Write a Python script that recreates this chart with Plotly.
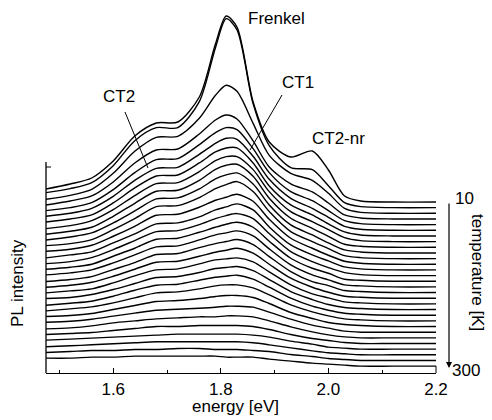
import plotly.graph_objects as go

# ---------------- data ----------------
energy = [1.475, 1.52, 1.56, 1.60, 1.64, 1.68, 1.72, 1.76, 1.79, 1.81,
          1.83, 1.86, 1.89, 1.93, 1.97, 2.00, 2.03, 2.06, 2.12, 2.20]

temperatures = list(range(10, 301, 10))

# PL intensity (arb. units) of each spectrum above its own waterfall offset
pl_10K = [13, 18, 24, 41, 66, 79, 80, 105, 158, 186, 175, 100, 60, 45, 51, 32, 6, 1, 0, 0]
pl_20K = [15, 19, 25, 42, 67, 80, 80, 106, 160, 189, 178, 104, 62, 40, 38, 22, 5, 1, 0, 0]
pl_30K = [14, 18, 24, 40, 62, 76, 77, 95, 118, 128, 122, 90, 58, 40, 33, 20, 5, 1, 0, 0]
pl_40K = [14, 18, 23, 37, 56, 69, 70, 85, 99, 104, 100, 78, 52, 35, 27, 16, 4, 1, 0, 0]
pl_50K = [14, 17, 22, 35, 52, 65, 66, 80, 92, 97, 95, 76, 52, 33, 24, 14, 4, 1, 0, 0]
pl_60K = [14, 17, 22, 34, 50, 62, 63, 76, 87, 92, 91, 74, 51, 32, 22, 13, 4, 1, 0, 0]
pl_70K = [14, 17, 21, 33, 48, 60, 61, 73, 84, 88, 88, 73, 50, 31, 21, 12, 4, 1, 0, 0]
pl_80K = [13, 16, 21, 32, 46, 58, 59, 70, 81, 85, 85, 72, 50, 30, 20, 12, 4, 1, 0, 0]
pl_90K = [13, 16, 20, 31, 44, 56, 57, 67, 78, 82, 83, 71, 49, 29, 19, 11, 3, 1, 0, 0]
pl_100K = [13, 16, 20, 30, 42, 54, 55, 64, 74, 78, 80, 69, 48, 28, 18, 10, 3, 1, 0, 0]
pl_110K = [13, 15, 19, 29, 40, 52, 53, 61, 70, 74, 77, 67, 47, 27, 17, 10, 3, 1, 0, 0]
pl_120K = [13, 15, 19, 28, 38, 49, 50, 57, 64, 67, 70, 63, 45, 26, 16, 9, 3, 1, 0, 0]
pl_130K = [12, 15, 18, 27, 36, 46, 47, 53, 60, 63, 66, 60, 43, 25, 15, 9, 3, 1, 0, 0]
pl_140K = [12, 14, 18, 26, 35, 44, 45, 51, 57, 60, 62, 57, 42, 24, 14, 8, 3, 1, 0, 0]
pl_150K = [12, 14, 17, 25, 33, 42, 43, 49, 54, 57, 59, 54, 40, 23, 13, 8, 2, 1, 0, 0]
pl_160K = [12, 14, 17, 24, 32, 40, 41, 47, 52, 54, 56, 51, 38, 22, 12, 7, 2, 1, 0, 0]
pl_170K = [11, 13, 16, 23, 30, 38, 39, 45, 49, 51, 53, 48, 36, 21, 11, 7, 2, 1, 0, 0]
pl_180K = [11, 13, 16, 22, 29, 36, 37, 42, 46, 48, 50, 45, 34, 20, 11, 6, 2, 1, 0, 0]
pl_190K = [11, 13, 15, 21, 28, 34, 35, 40, 44, 45, 46, 42, 32, 19, 10, 6, 2, 1, 0, 0]
pl_200K = [11, 12, 15, 20, 26, 32, 33, 37, 41, 42, 43, 39, 30, 18, 10, 5, 2, 1, 0, 0]
pl_210K = [10, 12, 14, 19, 25, 30, 31, 35, 38, 39, 40, 36, 28, 17, 9, 5, 2, 1, 0, 0]
pl_220K = [10, 12, 14, 18, 23, 28, 29, 32, 35, 36, 36, 33, 26, 16, 9, 5, 2, 1, 0, 0]
pl_230K = [10, 11, 13, 17, 21, 25, 26, 28, 30, 31, 31, 29, 23, 14, 8, 4, 2, 1, 0, 0]
pl_240K = [10, 11, 13, 16, 19, 22, 23, 24, 25, 26, 26, 25, 20, 13, 7, 4, 1, 0, 0, 0]
pl_250K = [9, 10, 12, 15, 17, 19, 20, 21, 21, 22, 22, 21, 17, 11, 6, 3, 1, 0, 0, 0]
pl_260K = [9, 10, 11, 13, 15, 17, 17, 18, 18, 18, 18, 17, 14, 9, 5, 3, 1, 0, 0, 0]
pl_270K = [9, 10, 11, 12, 13, 14, 15, 15, 15, 15, 15, 14, 12, 8, 5, 2, 1, 0, 0, 0]
pl_280K = [8, 9, 10, 11, 12, 13, 13, 13, 13, 13, 13, 12, 10, 7, 4, 2, 1, 0, 0, 0]
pl_290K = [8, 9, 10, 10, 11, 11, 12, 12, 11, 11, 11, 10, 9, 6, 4, 2, 1, 0, 0, 0]
pl_300K = [8, 8, 9, 9, 10, 10, 10, 10, 10, 9, 9, 9, 7, 5, 3, 2, 1, 0, 0, 0]

spectra = [pl_10K, pl_20K, pl_30K, pl_40K, pl_50K, pl_60K, pl_70K, pl_80K, pl_90K, pl_100K,
           pl_110K, pl_120K, pl_130K, pl_140K, pl_150K, pl_160K, pl_170K, pl_180K, pl_190K, pl_200K,
           pl_210K, pl_220K, pl_230K, pl_240K, pl_250K, pl_260K, pl_270K, pl_280K, pl_290K, pl_300K]

x_tick_values = [1.6, 1.8, 2.0, 2.2]
x_tick_labels = ["1.6", "1.8", "2.0", "2.2"]
x_minor_ticks = [1.5, 1.7, 1.9, 2.1]

# ---------------- presentation ----------------
W, H = 492, 420
ML, MR, MT, MB = 46, 56, 0, 47
PW, PH = W - ML - MR, H - MT - MB
OFFSET_TOP = 171.0
OFFSET_STEP = 5.66
FONT = "Liberation Sans, Arial, Helvetica, sans-serif"
FS = 17


def px(xs):
    return (xs - ML) / PW


def py(ys):
    return (H - MB - ys) / PH


fig = go.Figure()
for i, (T, s) in enumerate(zip(temperatures, spectra)):
    off = OFFSET_TOP - i * OFFSET_STEP
    fig.add_trace(go.Scatter(
        x=energy, y=[off + v for v in s], mode="lines", name=f"{T} K",
        line=dict(color="black", width=1.4, shape="spline", smoothing=0.8),
        hoverinfo="skip"))

shapes = [
    # partial left axis line
    dict(type="line", xref="paper", yref="paper", x0=0, x1=0, y0=0, y1=py(162),
         line=dict(color="black", width=1.3)),
    dict(type="line", xref="paper", yref="paper", x0=0, x1=px(51), y0=py(167), y1=py(167),
         line=dict(color="black", width=1)),
    # right end marker of the energy axis
    dict(type="line", xref="paper", yref="paper", x0=1, x1=1, y0=0, y1=py(366),
         line=dict(color="black", width=1)),
    # leader lines
    dict(type="line", xref="paper", yref="paper", x0=px(125), y0=py(112), x1=px(148), y1=py(168),
         line=dict(color="black", width=1)),
    dict(type="line", xref="paper", yref="paper", x0=px(282), y0=py(95), x1=px(250), y1=py(150),
         line=dict(color="black", width=1)),
]

ann_font = dict(family=FONT, size=FS, color="black")


def label(text, xs, ys, angle=0):
    return dict(text=text, x=px(xs), y=py(ys), xref="paper", yref="paper", showarrow=False,
                xanchor="center", yanchor="middle", textangle=angle, font=ann_font)


annotations = [
    label("Frenkel", 276, 18),
    label("CT1", 298, 82),
    label("CT2", 119, 97),
    label("CT2-nr", 338, 138),
    label("energy [eV]", 235, 406),
    label("PL intensity", 17, 283, -90),
    label("10", 464, 198),
    label("300", 466, 370),
    label("temperature [K]", 478, 272, 90),
    dict(text="", x=px(449), y=py(368), xref="paper", yref="paper", showarrow=True,
         ax=0, ay=-166, arrowhead=2, arrowsize=1, arrowwidth=1.2, arrowcolor="black"),
]

fig.update_layout(
    width=W, height=H, margin=dict(l=ML, r=MR, t=MT, b=MB, pad=0),
    paper_bgcolor="white", plot_bgcolor="white", showlegend=False,
    font=dict(family=FONT, size=FS, color="black"),
    xaxis=dict(range=[1.475, 2.2], tickvals=x_tick_values, ticktext=x_tick_labels,
               ticks="inside", ticklen=5, tickwidth=1.2, tickcolor="black",
               minor=dict(tickvals=x_minor_ticks, ticks="inside", ticklen=3, tickwidth=1, tickcolor="black"),
               showline=True, linecolor="black", linewidth=1.3, showgrid=False, zeroline=False,
               tickfont=dict(family=FONT, size=FS, color="black")),
    yaxis=dict(range=[0, PH], visible=False),
    shapes=shapes, annotations=annotations,
)

fig.write_html("out.html")
